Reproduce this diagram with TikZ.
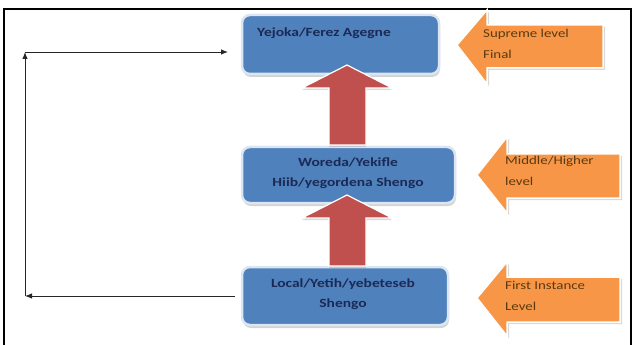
\documentclass[tikz,border=0pt]{standalone}
\usepackage{fontspec}
\setmainfont{Carlito}[FakeStretch=1.24]
\usetikzlibrary{shadows,arrows.meta}
\definecolor{boxblue}{HTML}{4F81BD}
\definecolor{boxedge}{HTML}{DCE6F2}
\definecolor{boxtext}{HTML}{1B2A55}
\definecolor{arrowred}{HTML}{C0504D}
\definecolor{arroworange}{HTML}{F79646}
\definecolor{orangetext}{HTML}{5A3A12}
\tikzset{
  levelbox/.style={rounded corners=8pt, fill=boxblue, draw=boxedge, line width=2.5pt,
    drop shadow={opacity=0.35, shadow xshift=1pt, shadow yshift=-3pt}},
  boxlabel/.style={text=boxtext, font=\bfseries\fontsize{12.5}{20}\selectfont, align=center, inner sep=0pt},
  redarrow/.style={fill=arrowred, draw=white, line width=1.2pt,
    drop shadow={opacity=0.3, shadow xshift=0pt, shadow yshift=-2pt}},
  orangearrow/.style={fill=arroworange, draw=white, line width=1.5pt,
    drop shadow={opacity=0.3, shadow xshift=2pt, shadow yshift=-2pt}},
  orangelabel/.style={text=orangetext, font=\fontsize{12}{21}\selectfont, align=left, inner sep=0pt, anchor=north west},
  loopline/.style={line width=0.9pt, draw=black!85},
  looptip/.style={-{Latex[length=7pt,width=5.5pt]}}
}
\begin{document}
\begin{tikzpicture}[x=1pt,y=-1pt]
\useasboundingbox (0,0) rectangle (633,345);
% frame
\draw[line width=2pt] (4,346) -- (4,9) -- (631,9) -- (631,346);

% level boxes
\node[levelbox, minimum width=197pt, minimum height=59pt] (top) at (340.5,44.5) {};
\node[levelbox, minimum width=213pt, minimum height=56pt] (mid) at (348.5,175) {};
\node[levelbox, minimum width=206pt, minimum height=58pt] (bot) at (345,296) {};

\node[boxlabel, anchor=west] (toplabel) at (257,33) {Yejoka/Ferez Agegne};
\node[boxlabel] (midlabel) at (348,173) {Woreda/Yekifle\\Hiib/yegordena Shengo};
\node[boxlabel] (botlabel) at (343,294.5) {Local/Yetih/yebeteseb\\Shengo};

% red up arrows
\path[redarrow] (329,145) -- (329,88) -- (302,88) -- (347,65) -- (392,88) -- (366,88) -- (366,145) -- cycle;
\path[redarrow] (329,266) -- (329,218) -- (302,218) -- (347,195) -- (392,218) -- (366,218) -- (366,266) -- cycle;

% orange left arrows
\path[orangearrow] (457,45) -- (487,10) -- (487,25) -- (603,25) -- (603,68) -- (487,68) -- (487,84) -- cycle;
\path[orangearrow] (477,175) -- (507,137) -- (507,154) -- (620,154) -- (620,198) -- (507,198) -- (507,213) -- cycle;
\path[orangearrow] (477,298) -- (507,262) -- (507,277) -- (620,277) -- (620,322) -- (507,322) -- (507,336) -- cycle;

\node[orangelabel] (toptag) at (483,29) {Supreme level\\Final};
\node[orangelabel] (midtag) at (505,156) {Middle/Higher\\level};
\node[orangelabel] (bottag) at (505,281) {First Instance\\Level};

% loop connectors
\coordinate (c1) at (25,296);
\coordinate (c2) at (25,52);
\coordinate (c3) at (228,52);
\draw[loopline, looptip, shorten <=6pt] (bot.west) -- (c1);
\draw[loopline, looptip] (c1) -- (c2);
\draw[loopline, looptip] (c2) -- (c3);
\end{tikzpicture}
\end{document}
